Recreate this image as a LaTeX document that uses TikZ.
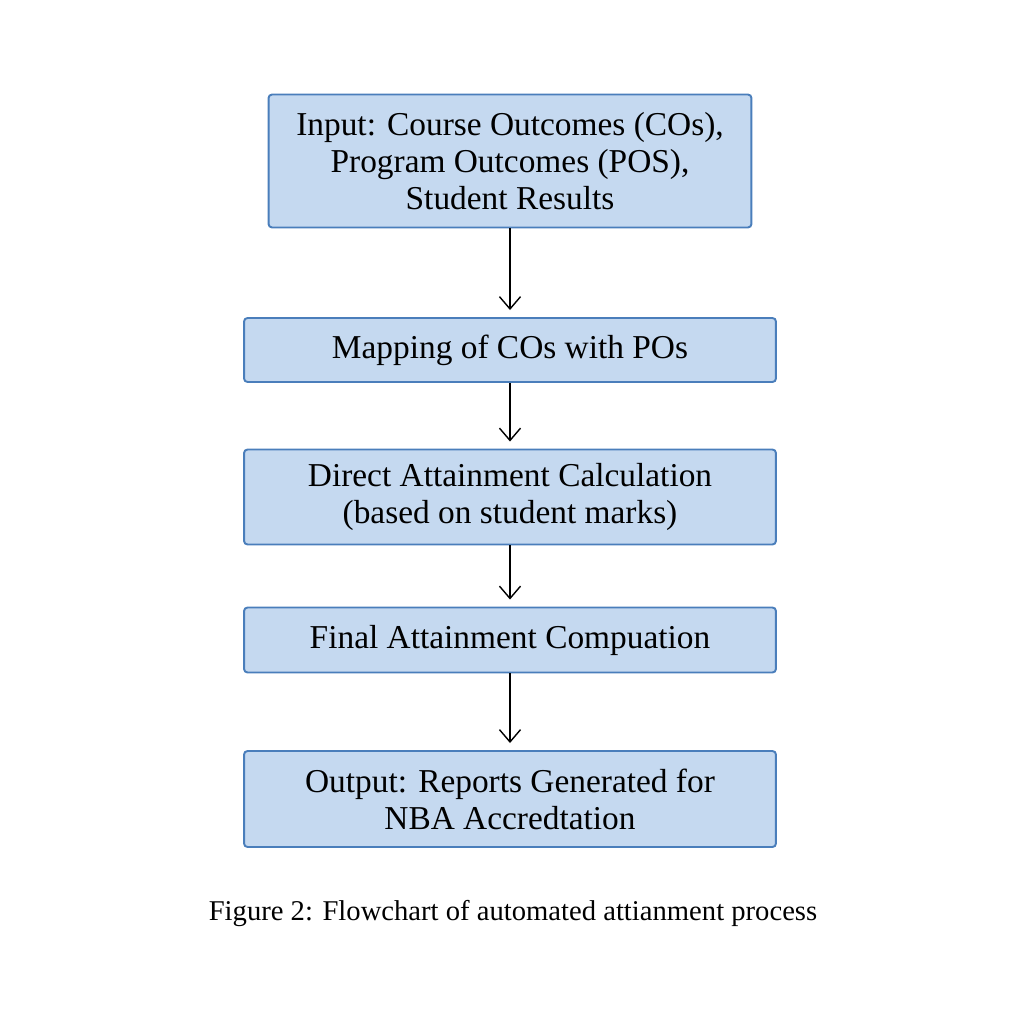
\documentclass[tikz,border=0pt]{standalone}
\usepackage{fontspec}
\setmainfont{Liberation Serif}
\usetikzlibrary{arrows.meta}
\definecolor{boxfill}{HTML}{C5D9F0}
\definecolor{boxline}{HTML}{4A7EBB}
\tikzset{
  stepbox/.style={draw=boxline, fill=boxfill, line width=1.1pt, rounded corners=2pt,
    align=center, inner sep=0pt, font=\fontsize{19}{21}\selectfont},
  flow/.style={-{Straight Barb[length=7pt,width=12pt]}, line width=0.8pt}
}
\begin{document}
\begin{tikzpicture}[x=0.02cm, y=-0.02cm]
  \useasboundingbox[fill=white] (0, 0) rectangle (1024, 1024);
  % boxes, top to bottom
  \node[stepbox, minimum width=9.66cm, minimum height=2.66cm] (input) at (510, 161)
    {Input: Course Outcomes (COs),\\Program Outcomes (POS),\\Student Results};
  \node[stepbox, minimum width=10.64cm, minimum height=1.28cm] (mapping) at (510, 350)
    {Mapping of COs with POs};
  \node[stepbox, minimum width=10.64cm, minimum height=1.9cm] (direct) at (510, 497)
    {Direct Attainment Calculation\\(based on student marks)};
  \node[stepbox, minimum width=10.64cm, minimum height=1.3cm] (final) at (510, 640)
    {Final Attainment Compuation};
  \node[stepbox, minimum width=10.64cm, minimum height=1.92cm] (output) at (510, 799)
    {Output: Reports Generated for\\NBA Accredtation};
  % arrows
  \draw[flow] (input.south) -- ([yshift=4pt]mapping.north);
  \draw[flow] (mapping.south) -- ([yshift=4pt]direct.north);
  \draw[flow] (direct.south) -- ([yshift=4pt]final.north);
  \draw[flow] (final.south) -- ([yshift=4pt]output.north);
  \node[font=\fontsize{16.3}{19}\selectfont] (caption) at (513, 913)
    {Figure 2: Flowchart of automated attianment process};
\end{tikzpicture}
\end{document}
